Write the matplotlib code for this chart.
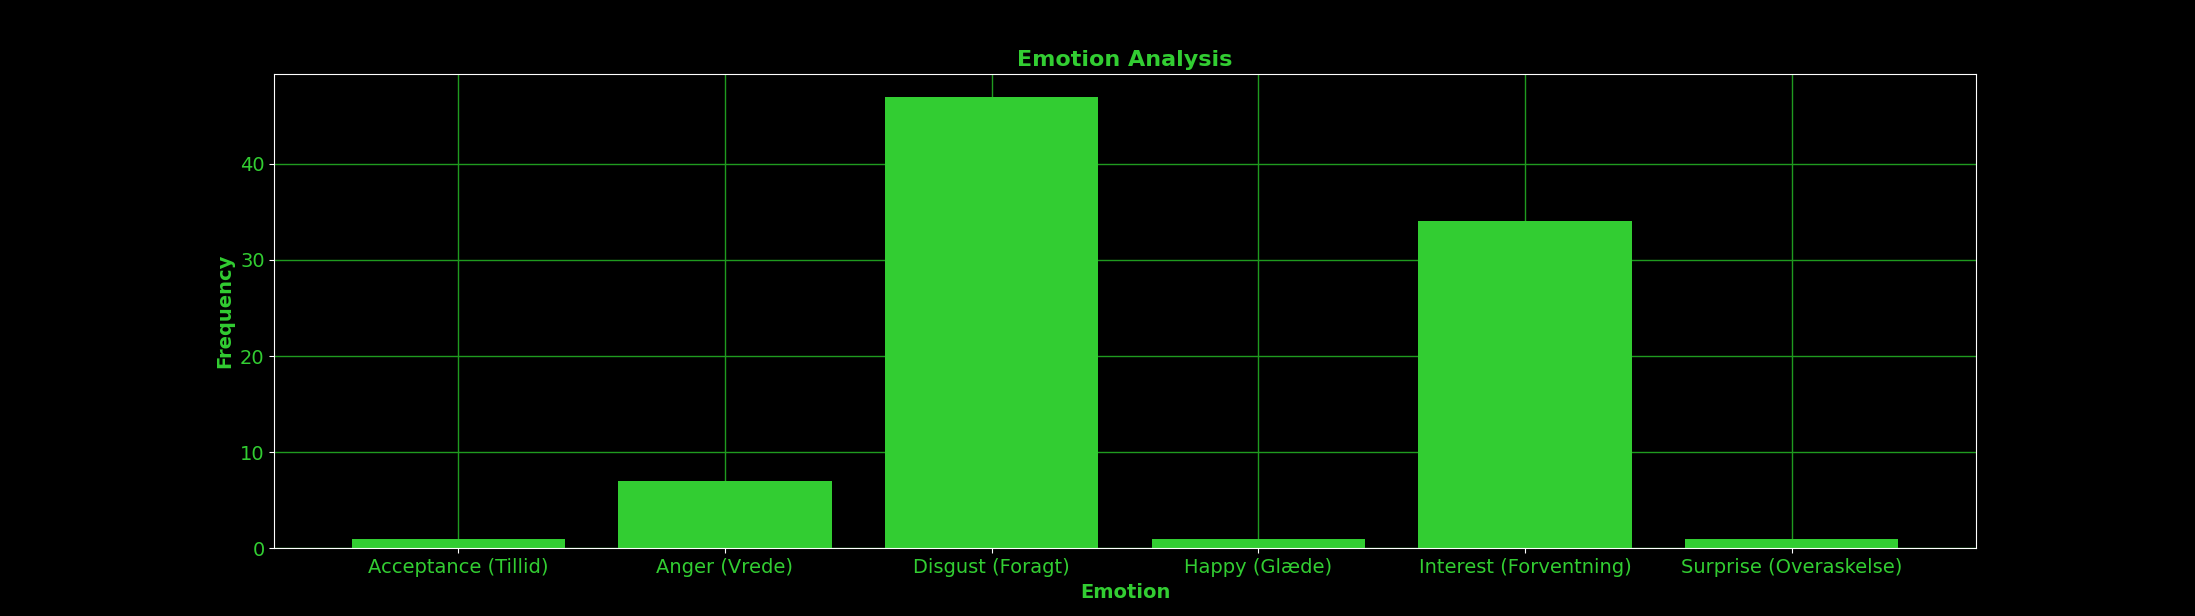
import matplotlib
matplotlib.use("Agg")
import matplotlib.pyplot as plt

emotions = ["Acceptance (Tillid)", "Anger (Vrede)", "Disgust (Foragt)",
            "Happy (Glæde)", "Interest (Forventning)", "Surprise (Overaskelse)"]
frequencies = [1, 7, 47, 1, 34, 1]

plt.rcParams["font.size"] = 14
fig, ax = plt.subplots(figsize=(21.95, 6.16), dpi=100)
fig.patch.set_facecolor("black")
ax.set_facecolor("black")

ax.bar(emotions, frequencies, color="limegreen", zorder=2)
ax.grid(True, color="#1f9a1f", linewidth=1.0, zorder=0)
ax.set_axisbelow(True)

ax.set_title("Emotion Analysis", color="limegreen", fontsize=16, fontweight="bold")
ax.set_xlabel("Emotion", color="limegreen", fontweight="bold")
ax.set_ylabel("Frequency", color="limegreen", fontweight="bold")
ax.tick_params(colors="white", labelcolor="limegreen")
for s in ax.spines.values():
    s.set_color("white")

fig.savefig("out.png", facecolor="black")
